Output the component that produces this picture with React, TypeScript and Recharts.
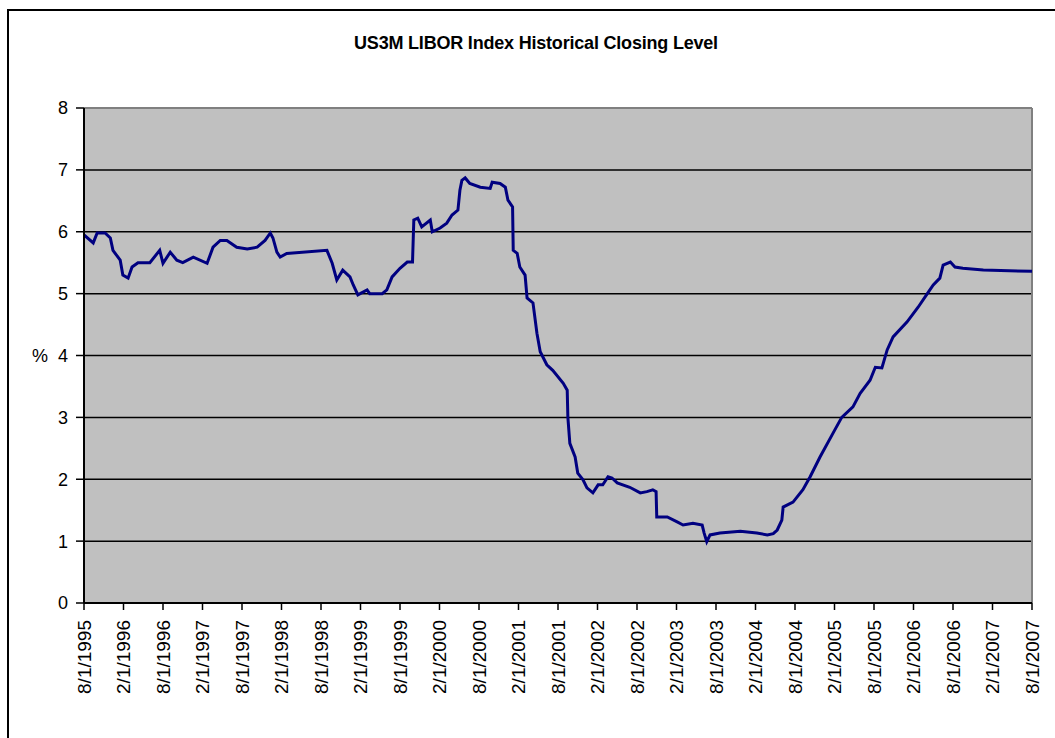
import React from 'react';
import {
  LineChart,
  Line,
  XAxis,
  YAxis,
  CartesianGrid,
  ReferenceLine,
} from 'recharts';

// months since 8/1/1995
const months = [
  0, 1.4, 2.0, 3.2, 4.0, 4.4, 5.5, 5.9, 6.7, 7.3,
  8.2, 10.0, 11.5, 12.0, 13.1, 14.1, 15.0, 16.6, 18.7, 19.6,
  20.7, 21.7, 23.2, 24.8, 26.3, 27.5, 28.3, 28.7, 29.3, 29.8,
  30.8, 36.9, 37.7, 38.4, 39.3, 40.4, 40.9, 41.6, 43.0, 43.4,
  45.3, 46.0, 46.8, 48.0, 49.1, 49.9, 50.1, 50.7, 51.3, 52.6,
  52.9, 54.1, 55.1, 55.9, 56.8, 57.1, 57.4, 57.9, 58.6, 60.2,
  61.7, 62.0, 63.2, 64.0, 64.4, 65.1, 65.2, 65.8, 66.2, 67.0,
  67.3, 68.2, 68.8, 69.3, 70.3, 71.2, 72.8, 73.4, 73.5, 73.8,
  74.6, 75.0, 75.8, 76.4, 77.3, 78.1, 78.8, 79.6, 80.2, 81.0,
  82.9, 84.5, 85.5, 86.4, 86.9, 87.0, 88.6, 90.1, 91.0, 92.5,
  93.9, 94.2, 94.6, 95.1, 96.6, 99.7, 102.2, 103.8, 104.7, 105.3,
  106.0, 106.2, 107.7, 109.2, 110.3, 111.8, 113.8, 115.1, 116.8, 117.9,
  119.4, 120.2, 121.2, 122.0, 122.9, 125.0, 126.7, 128.1, 129.0, 130.0,
  130.5, 131.6, 132.3, 133.5, 136.6, 144,
];

// US3M LIBOR closing level, %
const rates = [
  5.95, 5.82, 5.98, 5.98, 5.9, 5.7, 5.54, 5.3, 5.25, 5.43,
  5.5, 5.5, 5.7, 5.49, 5.67, 5.54, 5.5, 5.59, 5.49, 5.75,
  5.86, 5.86, 5.75, 5.72, 5.75, 5.86, 5.98, 5.9, 5.67, 5.59,
  5.65, 5.7, 5.49, 5.22, 5.38, 5.27, 5.14, 4.98, 5.06, 5.0,
  5.0, 5.06, 5.27, 5.41, 5.51, 5.51, 6.19, 6.22, 6.08, 6.19,
  6.0, 6.06, 6.14, 6.27, 6.35, 6.67, 6.83, 6.87, 6.78, 6.72,
  6.7, 6.8, 6.78, 6.72, 6.51, 6.4, 5.7, 5.65, 5.43, 5.3,
  4.93, 4.85, 4.36, 4.06, 3.85, 3.76, 3.55, 3.44, 3.0, 2.58,
  2.36, 2.1, 1.99, 1.86, 1.78, 1.91, 1.91, 2.04, 2.02, 1.94,
  1.87, 1.78, 1.8, 1.83, 1.8, 1.39, 1.39, 1.31, 1.26, 1.29,
  1.26, 1.13, 0.99, 1.1, 1.13, 1.16, 1.13, 1.1, 1.12, 1.18,
  1.34, 1.55, 1.63, 1.83, 2.04, 2.36, 2.75, 3.0, 3.17, 3.39,
  3.6, 3.81, 3.8, 4.09, 4.3, 4.54, 4.78, 5.0, 5.14, 5.25,
  5.46, 5.51, 5.43, 5.41, 5.38, 5.36,
];

const tickLabels = [
  '8/1/1995', '2/1/1996', '8/1/1996', '2/1/1997', '8/1/1997', '2/1/1998',
  '8/1/1998', '2/1/1999', '8/1/1999', '2/1/2000', '8/1/2000', '2/1/2001',
  '8/1/2001', '2/1/2002', '8/1/2002', '2/1/2003', '8/1/2003', '2/1/2004',
  '8/1/2004', '2/1/2005', '8/1/2005', '2/1/2006', '8/1/2006', '2/1/2007',
  '8/1/2007',
];
const yTicks = [0, 1, 2, 3, 4, 5, 6, 7, 8];

const data = months.map((m, i) => ({ m, rate: rates[i] }));
const xTicks = tickLabels.map((_, i) => i * 6);

const font = '"Liberation Sans", Arial, sans-serif';

function DateTick(props: any) {
  const { x, y, payload } = props;
  const label = tickLabels[Math.round(payload.value / 6)];
  return (
    <text
      x={x}
      y={y}
      transform={`rotate(-90, ${x}, ${y})`}
      textAnchor="end"
      dy="0.35em"
      fontSize={19}
      fontFamily={font}
      fill="#000"
    >
      {label}
    </text>
  );
}

export default function App() {
  return (
    <div
      style={{
        position: 'absolute',
        left: 0,
        top: 0,
        width: 1055,
        height: 738,
        overflow: 'hidden',
        background: '#fff',
      }}
    >
      <div
        style={{
          position: 'absolute',
          left: 7,
          top: 9,
          width: 1100,
          height: 800,
          border: '2px solid #000',
        }}
      />
      <div
        style={{
          position: 'absolute',
          left: 0,
          width: 1072,
          top: 33,
          textAlign: 'center',
          fontFamily: font,
          fontWeight: 'bold',
          fontSize: 18,
          letterSpacing: -0.2,
          color: '#000',
        }}
      >
        US3M LIBOR Index Historical Closing Level
      </div>
      <div style={{ position: 'absolute', left: 0, top: 0 }}>
        <LineChart
          width={1055}
          height={738}
          data={data}
          margin={{ top: 108, right: 23, left: 0, bottom: 0 }}
        >
          <CartesianGrid
            vertical={false}
            stroke="#000"
            strokeWidth={1.5}
            fill="#C0C0C0"
            fillOpacity={1}
          />
          <XAxis
            dataKey="m"
            type="number"
            domain={[0, 144]}
            ticks={xTicks}
            interval={0}
            height={135}
            tickSize={7}
            tickMargin={10}
            tick={<DateTick />}
            axisLine={{ stroke: '#000', strokeWidth: 2 }}
            tickLine={{ stroke: '#000', strokeWidth: 1.5 }}
          />
          <YAxis
            type="number"
            domain={[0, 8]}
            ticks={yTicks}
            interval={0}
            width={84}
            tickSize={8}
            tickMargin={8}
            tick={{ fill: '#000', fontSize: 18, fontFamily: font }}
            axisLine={{ stroke: '#000', strokeWidth: 2 }}
            tickLine={{ stroke: '#000', strokeWidth: 1.5 }}
            label={{
              value: '%',
              position: 'insideLeft',
              offset: 32,
              fill: '#000',
              fontSize: 18,
              fontFamily: font,
            }}
          />
          <ReferenceLine y={8} stroke="#808080" strokeWidth={2} />
          <ReferenceLine x={144} stroke="#808080" strokeWidth={2} />
          <Line
            type="linear"
            dataKey="rate"
            stroke="#000080"
            strokeWidth={3}
            dot={false}
            isAnimationActive={false}
          />
        </LineChart>
      </div>
    </div>
  );
}
